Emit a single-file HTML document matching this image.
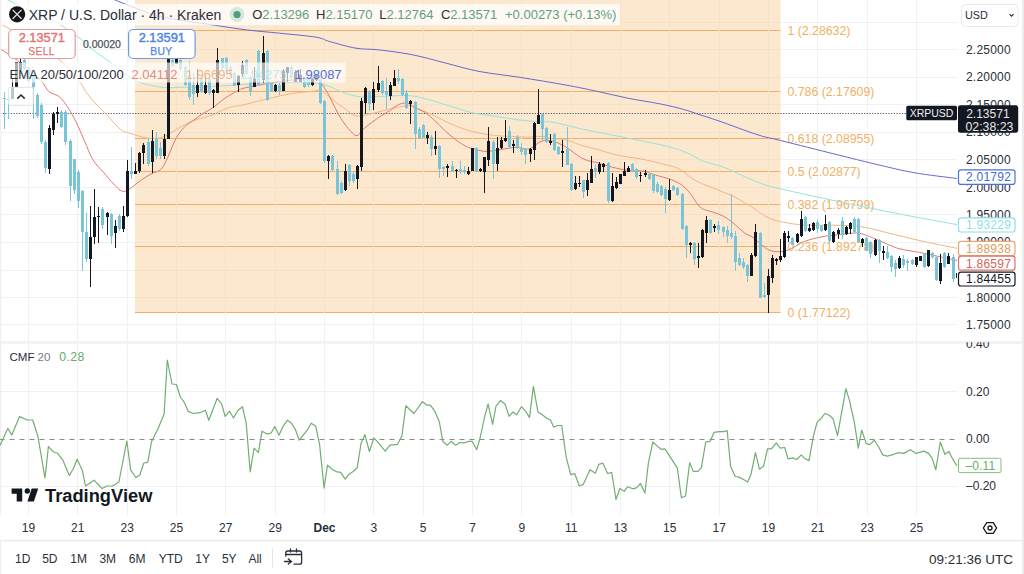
<!DOCTYPE html>
<html><head><meta charset="utf-8"><title>XRPUSD</title><style>
html,body{margin:0;padding:0;background:#fff;}
body{width:1024px;height:574px;overflow:hidden;position:relative;font-family:"Liberation Sans",sans-serif;}
svg{position:absolute;left:0;top:0;display:block}
</style></head><body>
<svg width="1024" height="574" viewBox="0 0 1024 574">
<g stroke="#f1f1f3" stroke-width="1" shape-rendering="crispEdges">
<line x1="0" y1="22.5" x2="957" y2="22.5"/>
<line x1="0" y1="49.5" x2="957" y2="49.5"/>
<line x1="0" y1="77.5" x2="957" y2="77.5"/>
<line x1="0" y1="104.5" x2="957" y2="104.5"/>
<line x1="0" y1="132.5" x2="957" y2="132.5"/>
<line x1="0" y1="159.5" x2="957" y2="159.5"/>
<line x1="0" y1="187.5" x2="957" y2="187.5"/>
<line x1="0" y1="214.5" x2="957" y2="214.5"/>
<line x1="0" y1="242.5" x2="957" y2="242.5"/>
<line x1="0" y1="270.5" x2="957" y2="270.5"/>
<line x1="0" y1="297.5" x2="957" y2="297.5"/>
<line x1="0" y1="324.5" x2="957" y2="324.5"/>
<line x1="28.5" y1="0" x2="28.5" y2="341"/>
<line x1="28.5" y1="342" x2="28.5" y2="515"/>
<line x1="77.5" y1="0" x2="77.5" y2="341"/>
<line x1="77.5" y1="342" x2="77.5" y2="515"/>
<line x1="127.5" y1="0" x2="127.5" y2="341"/>
<line x1="127.5" y1="342" x2="127.5" y2="515"/>
<line x1="176.5" y1="0" x2="176.5" y2="341"/>
<line x1="176.5" y1="342" x2="176.5" y2="515"/>
<line x1="225.5" y1="0" x2="225.5" y2="341"/>
<line x1="225.5" y1="342" x2="225.5" y2="515"/>
<line x1="275.5" y1="0" x2="275.5" y2="341"/>
<line x1="275.5" y1="342" x2="275.5" y2="515"/>
<line x1="324.5" y1="0" x2="324.5" y2="341"/>
<line x1="324.5" y1="342" x2="324.5" y2="515"/>
<line x1="373.5" y1="0" x2="373.5" y2="341"/>
<line x1="373.5" y1="342" x2="373.5" y2="515"/>
<line x1="423.5" y1="0" x2="423.5" y2="341"/>
<line x1="423.5" y1="342" x2="423.5" y2="515"/>
<line x1="472.5" y1="0" x2="472.5" y2="341"/>
<line x1="472.5" y1="342" x2="472.5" y2="515"/>
<line x1="521.5" y1="0" x2="521.5" y2="341"/>
<line x1="521.5" y1="342" x2="521.5" y2="515"/>
<line x1="571.5" y1="0" x2="571.5" y2="341"/>
<line x1="571.5" y1="342" x2="571.5" y2="515"/>
<line x1="620.5" y1="0" x2="620.5" y2="341"/>
<line x1="620.5" y1="342" x2="620.5" y2="515"/>
<line x1="669.5" y1="0" x2="669.5" y2="341"/>
<line x1="669.5" y1="342" x2="669.5" y2="515"/>
<line x1="719.5" y1="0" x2="719.5" y2="341"/>
<line x1="719.5" y1="342" x2="719.5" y2="515"/>
<line x1="768.5" y1="0" x2="768.5" y2="341"/>
<line x1="768.5" y1="342" x2="768.5" y2="515"/>
<line x1="817.5" y1="0" x2="817.5" y2="341"/>
<line x1="817.5" y1="342" x2="817.5" y2="515"/>
<line x1="867.5" y1="0" x2="867.5" y2="341"/>
<line x1="867.5" y1="342" x2="867.5" y2="515"/>
<line x1="916.5" y1="0" x2="916.5" y2="341"/>
<line x1="916.5" y1="342" x2="916.5" y2="515"/>
<line x1="0" y1="391.5" x2="957" y2="391.5"/>
<line x1="0" y1="486.5" x2="957" y2="486.5"/>
</g>
<rect x="135" y="0" width="645.5" height="313" fill="#fbe8cf"/>
<g stroke="#f0ae66" stroke-width="1">
<line x1="135" y1="30.5" x2="780.5" y2="30.5"/>
<line x1="135" y1="91.5" x2="780.5" y2="91.5"/>
<line x1="135" y1="138.5" x2="780.5" y2="138.5"/>
<line x1="135" y1="171.5" x2="780.5" y2="171.5"/>
<line x1="135" y1="204.5" x2="780.5" y2="204.5"/>
<line x1="135" y1="246.5" x2="780.5" y2="246.5"/>
<line x1="135" y1="312.5" x2="780.5" y2="312.5"/>
</g>
<g stroke="#f6e1c6" stroke-width="1" shape-rendering="crispEdges">
<line x1="135" y1="22.5" x2="780" y2="22.5"/>
<line x1="135" y1="49.5" x2="780" y2="49.5"/>
<line x1="135" y1="77.5" x2="780" y2="77.5"/>
<line x1="135" y1="104.5" x2="780" y2="104.5"/>
<line x1="135" y1="132.5" x2="780" y2="132.5"/>
<line x1="135" y1="159.5" x2="780" y2="159.5"/>
<line x1="135" y1="187.5" x2="780" y2="187.5"/>
<line x1="135" y1="214.5" x2="780" y2="214.5"/>
<line x1="135" y1="242.5" x2="780" y2="242.5"/>
<line x1="135" y1="270.5" x2="780" y2="270.5"/>
<line x1="135" y1="297.5" x2="780" y2="297.5"/>
<line x1="176.5" y1="0" x2="176.5" y2="313"/>
<line x1="225.5" y1="0" x2="225.5" y2="313"/>
<line x1="275.5" y1="0" x2="275.5" y2="313"/>
<line x1="324.5" y1="0" x2="324.5" y2="313"/>
<line x1="373.5" y1="0" x2="373.5" y2="313"/>
<line x1="423.5" y1="0" x2="423.5" y2="313"/>
<line x1="472.5" y1="0" x2="472.5" y2="313"/>
<line x1="521.5" y1="0" x2="521.5" y2="313"/>
<line x1="571.5" y1="0" x2="571.5" y2="313"/>
<line x1="620.5" y1="0" x2="620.5" y2="313"/>
<line x1="669.5" y1="0" x2="669.5" y2="313"/>
<line x1="719.5" y1="0" x2="719.5" y2="313"/>
<line x1="768.5" y1="0" x2="768.5" y2="313"/>
</g>
<g font-family="Liberation Sans" font-size="12.3" fill="#f0b064">
<text x="787.5" y="34.8">1 (2.28632)</text>
<text x="787.5" y="95.8">0.786 (2.17609)</text>
<text x="787.5" y="142.8">0.618 (2.08955)</text>
<text x="787.5" y="175.8">0.5 (2.02877)</text>
<text x="787.5" y="208.8">0.382 (1.96799)</text>
<text x="787.5" y="250.8">0.236 (1.89278)</text>
<text x="787.5" y="316.8">0 (1.77122)</text>
</g>
<line x1="0" y1="113.5" x2="957" y2="113.5" stroke="#5d606b" stroke-width="1" stroke-dasharray="1.3 1.4"/>
<path d="M108,-3 C110,-2.17 113.67,-0.5 120,2 C126.33,4.5 139.5,9.58 146,12 C152.5,14.42 153.33,15.17 159,16.5 C164.67,17.83 170.97,18.58 180,20 C189.03,21.42 202.13,23.35 213.2,25 C224.27,26.65 235.32,28.53 246.4,29.9 C257.48,31.27 268.07,31.98 279.7,33.2 C291.33,34.42 307.9,35.82 316.2,37.2 C324.5,38.58 322.87,39.67 329.5,41.5 C336.13,43.33 347.7,46.8 356,48.2 C364.3,49.6 369.87,48.8 379.3,49.9 C388.73,51 401.52,52.6 412.6,54.8 C423.68,57 434.73,60.33 445.8,63.1 C456.87,65.87 466.6,69.02 479,71.4 C491.4,73.78 505.75,75.13 520.2,77.4 C534.65,79.67 552.9,82.68 565.7,85 C578.5,87.32 586.55,89.08 597,91.3 C607.45,93.52 617.95,96.22 628.4,98.3 C638.85,100.38 650.57,101.97 659.7,103.8 C668.83,105.63 676.48,107.47 683.2,109.3 C689.92,111.13 694.03,112.85 700,114.8 C705.97,116.75 709.33,117.65 719,121 C728.67,124.35 747.6,131.62 758,134.9 C768.4,138.18 768.4,137.45 781.4,140.7 C794.4,143.95 820.4,150.52 836,154.4 C851.6,158.28 862,160.95 875,164 C888,167.05 900.33,170.28 914,172.7 C927.67,175.12 949.83,177.53 957,178.5" fill="none" stroke="#6469d2" stroke-width="1"/>
<path d="M0,-4 C1.33,-3.33 3,-2.5 8,0 C13,2.5 22.57,7.67 30,11 C37.43,14.33 44.65,15.72 52.6,20 C60.55,24.28 70.5,31.37 77.7,36.7 C84.9,42.03 90.47,47.82 95.8,52 C101.13,56.18 105.05,58.3 109.7,61.8 C114.35,65.3 119.05,69.73 123.7,73 C128.35,76.27 132.95,79.32 137.6,81.4 C142.25,83.48 146.95,84.47 151.6,85.5 C156.25,86.53 160.38,87.3 165.5,87.6 C170.62,87.9 175.72,87.4 182.3,87.3 C188.88,87.2 195.38,87.45 205,87 C214.62,86.55 228.33,85.3 240,84.6 C251.67,83.9 261.83,82.95 275,82.8 C288.17,82.65 307.25,81.93 319,83.7 C330.75,85.47 338.17,91.18 345.5,93.4 C352.83,95.62 355.68,96.57 363,97 C370.32,97.43 381.57,96.22 389.4,96 C397.23,95.78 403.95,95.23 410,95.7 C416.05,96.17 420.48,97.5 425.7,98.8 C430.92,100.1 436.08,101.93 441.3,103.5 C446.52,105.07 451.77,106.63 457,108.2 C462.23,109.77 467.47,111.72 472.7,112.9 C477.93,114.08 483.18,114.52 488.4,115.3 C493.62,116.08 498.78,116.82 504,117.6 C509.22,118.38 514.47,119.35 519.7,120 C524.93,120.65 530.35,121.2 535.4,121.5 C540.45,121.8 544.95,121.22 550,121.8 C555.05,122.38 560.48,123.82 565.7,125 C570.92,126.18 576.08,127.73 581.3,128.9 C586.52,130.07 591.77,130.95 597,132 C602.23,133.05 607.47,134.15 612.7,135.2 C617.93,136.25 623.18,137.27 628.4,138.3 C633.62,139.33 638.78,140.35 644,141.4 C649.22,142.45 654.47,143.42 659.7,144.6 C664.93,145.78 670.18,146.82 675.4,148.5 C680.62,150.18 686.43,152.62 691,154.7 C695.57,156.78 697.35,158.92 702.8,161 C708.25,163.08 716.73,164.6 723.7,167.2 C730.67,169.8 737.63,173.63 744.6,176.6 C751.57,179.57 758.53,182.73 765.5,185 C772.47,187.27 774.65,187.53 786.4,190.2 C798.15,192.87 821.23,197.87 836,201 C850.77,204.13 862,206.37 875,209 C888,211.63 900.33,214.2 914,216.8 C927.67,219.4 949.83,223.3 957,224.6" fill="none" stroke="#96e3dc" stroke-width="1"/>
<path d="M0,23.5 C4.45,26.08 16.77,32.92 26.7,39 C36.63,45.08 50.98,53.17 59.6,60 C68.22,66.83 74.05,74.75 78.4,80 C82.75,85.25 83.1,87.83 85.7,91.5 C88.3,95.17 90.87,98.52 94,102 C97.13,105.48 101.02,108.75 104.5,112.4 C107.98,116.05 111.95,120.85 114.9,123.9 C117.85,126.95 119.93,129.22 122.2,130.7 C124.47,132.18 125.53,131.85 128.5,132.8 C131.47,133.75 136.25,135.43 140,136.4 C143.75,137.37 147.43,138.42 151,138.6 C154.57,138.78 157.93,138.55 161.4,137.5 C164.87,136.45 168.32,134.22 171.8,132.3 C175.28,130.38 178.8,127.92 182.3,126 C185.8,124.08 189.32,122.18 192.8,120.8 C196.28,119.42 199.72,118.75 203.2,117.7 C206.68,116.65 210.23,115.9 213.7,114.5 C217.17,113.1 220.52,110.68 224,109.3 C227.48,107.92 231.93,106.8 234.6,106.2 C237.27,105.6 236.17,106.52 240,105.7 C243.83,104.88 251.77,102.75 257.6,101.3 C263.43,99.85 269.15,98.32 275,97 C280.85,95.68 286.82,94.3 292.7,93.4 C298.58,92.5 305.62,92.03 310.3,91.6 C314.98,91.17 317.28,89.62 320.8,90.8 C324.32,91.98 327.28,95.63 331.4,98.7 C335.52,101.77 341.4,106.33 345.5,109.2 C349.6,112.07 351.62,115.17 356,115.9 C360.38,116.63 366.23,114.72 371.8,113.6 C377.37,112.48 383.53,110.52 389.4,109.2 C395.27,107.88 402.78,106 407,105.7 C411.22,105.4 410.28,105.8 414.7,107.4 C419.12,109 427.75,112.68 433.5,115.3 C439.25,117.92 443.97,120.75 449.2,123.1 C454.43,125.45 459.68,127.7 464.9,129.4 C470.12,131.1 475.28,132.27 480.5,133.3 C485.72,134.33 490.97,135.08 496.2,135.6 C501.43,136.12 506.67,136.13 511.9,136.4 C517.13,136.67 522.38,137.2 527.6,137.2 C532.82,137.2 539.47,136.22 543.2,136.4 C546.93,136.58 546.25,137.72 550,138.3 C553.75,138.88 560.48,138.73 565.7,139.9 C570.92,141.07 576.08,143.73 581.3,145.3 C586.52,146.87 591.77,147.85 597,149.3 C602.23,150.75 607.47,152.7 612.7,154 C617.93,155.3 623.18,156.18 628.4,157.1 C633.62,158.02 638.78,158.45 644,159.5 C649.22,160.55 654.47,162.1 659.7,163.4 C664.93,164.7 671.22,165.73 675.4,167.3 C679.58,168.87 681.98,170.9 684.8,172.8 C687.62,174.7 689.3,176.83 692.3,178.7 C695.3,180.57 699.32,182.45 702.8,184 C706.28,185.55 709.72,186.62 713.2,188 C716.68,189.38 720.23,190.88 723.7,192.3 C727.17,193.72 730.52,194.75 734,196.5 C737.48,198.25 741.1,200.72 744.6,202.8 C748.1,204.88 751.52,206.73 755,209 C758.48,211.27 762,214.48 765.5,216.4 C769,218.32 771.7,219.3 776,220.5 C780.3,221.7 786.15,222.82 791.3,223.6 C796.45,224.38 800.4,224.93 806.9,225.2 C813.4,225.47 822.48,225.07 830.3,225.2 C838.12,225.33 847.28,225.48 853.8,226 C860.32,226.52 864.2,227.27 869.4,228.3 C874.6,229.33 879.9,230.95 885,232.2 C890.1,233.45 893.43,234.23 900,235.8 C906.57,237.37 914.9,239.52 924.4,241.6 C933.9,243.68 951.57,247.18 957,248.3" fill="none" stroke="#f1b684" stroke-width="1"/>
<path d="M0,48.6 C3.4,50.95 13.65,57.47 20.4,62.7 C27.15,67.93 35.77,75.2 40.5,80 C45.23,84.8 45.67,88.72 48.8,91.5 C51.93,94.28 56.15,94.08 59.3,96.7 C62.45,99.32 64.92,103.02 67.7,107.2 C70.48,111.38 73.22,116.22 76,121.8 C78.78,127.38 81.6,134.42 84.4,140.7 C87.2,146.98 89.67,154.28 92.8,159.5 C95.93,164.72 99.72,167.92 103.2,172 C106.68,176.08 110.52,180.78 113.7,184 C116.88,187.22 119.58,190.53 122.3,191.3 C125.02,192.07 126.97,190.38 130,188.6 C133.03,186.82 137,183.03 140.5,180.6 C144,178.17 147.52,175.93 151,174 C154.48,172.07 158.62,171.77 161.4,169 C164.18,166.23 165.27,162.47 167.7,157.4 C170.13,152.33 173.22,143.67 176,138.6 C178.78,133.53 181.6,129.97 184.4,127 C187.2,124.03 189.67,123.05 192.8,120.8 C195.93,118.55 199.72,115.77 203.2,113.5 C206.68,111.23 210.23,109.65 213.7,107.2 C217.17,104.75 220.52,101.25 224,98.8 C227.48,96.35 231.43,94.23 234.6,92.5 C237.77,90.77 239.17,89.57 243,88.4 C246.83,87.23 252.27,86.57 257.6,85.5 C262.93,84.43 269.15,82.88 275,82 C280.85,81.12 286.82,80.78 292.7,80.2 C298.58,79.62 305.92,78.37 310.3,78.5 C314.68,78.63 316.07,78.52 319,81 C321.93,83.48 324.95,88.4 327.9,93.4 C330.85,98.4 333.77,105.73 336.7,111 C339.63,116.27 342.28,120.9 345.5,125 C348.72,129.1 353.08,134.87 356,135.6 C358.92,136.33 360.37,131.6 363,129.4 C365.63,127.2 368.87,124.6 371.8,122.4 C374.73,120.2 377.67,118.1 380.6,116.2 C383.53,114.3 386.47,112.9 389.4,111 C392.33,109.1 395.27,106.13 398.2,104.8 C401.13,103.47 404.25,102.57 407,103 C409.75,103.43 411.58,105.75 414.7,107.4 C417.82,109.05 422.32,110.67 425.7,112.9 C429.08,115.13 431.87,117.92 435,120.8 C438.13,123.68 441.08,127.07 444.5,130.2 C447.92,133.33 451.85,136.87 455.5,139.6 C459.15,142.33 463.27,145.03 466.4,146.6 C469.53,148.17 471.42,148.22 474.3,149 C477.18,149.78 480.58,151 483.7,151.3 C486.82,151.6 489.62,151.18 493,150.8 C496.38,150.42 500.07,149.57 504,149 C507.93,148.43 512.43,147.4 516.6,147.4 C520.77,147.4 525.1,149.92 529,149 C532.9,148.08 536.83,143.35 540,141.9 C543.17,140.45 545.03,140.12 548,140.3 C550.97,140.48 554.85,141.9 557.8,143 C560.75,144.1 563.08,145.33 565.7,146.9 C568.32,148.47 570.9,150.57 573.5,152.4 C576.1,154.23 578.68,156.47 581.3,157.9 C583.92,159.33 586.58,160.22 589.2,161 C591.82,161.78 593.08,161.55 597,162.6 C600.92,163.65 607.47,166 612.7,167.3 C617.93,168.6 623.18,169.75 628.4,170.4 C633.62,171.05 640.32,170.68 644,171.2 C647.68,171.72 647.67,172.6 650.5,173.5 C653.33,174.4 657.52,175.57 661,176.6 C664.48,177.63 667.93,178.3 671.4,179.7 C674.87,181.1 678.67,182.73 681.8,185 C684.93,187.27 687.75,190.33 690.2,193.3 C692.65,196.27 694.4,200.18 696.5,202.8 C698.6,205.42 700.02,207.43 702.8,209 C705.58,210.57 709.72,210.97 713.2,212.2 C716.68,213.43 720.23,214.48 723.7,216.4 C727.17,218.32 730.52,220.93 734,223.7 C737.48,226.47 741.43,230.73 744.6,233 C747.77,235.27 750.22,235.37 753,237.3 C755.78,239.23 758.57,242.45 761.3,244.6 C764.03,246.75 766.23,249.02 769.4,250.2 C772.57,251.38 776.65,251.97 780.3,251.7 C783.95,251.43 787.92,250.03 791.3,248.6 C794.68,247.17 797.22,244.67 800.6,243.1 C803.98,241.53 807.43,240.37 811.6,239.2 C815.77,238.03 820.65,236.88 825.6,236.1 C830.55,235.32 836.6,235.02 841.3,234.5 C846,233.98 850.42,233.12 853.8,233 C857.18,232.88 858.48,232.97 861.6,233.75 C864.72,234.53 868.6,236.14 872.5,237.7 C876.4,239.26 880.83,241.33 885,243.1 C889.17,244.87 893.33,247.02 897.5,248.3 C901.67,249.58 905.52,249.95 910,250.8 C914.48,251.65 916.57,251.78 924.4,253.4 C932.23,255.02 951.57,259.32 957,260.5" fill="none" stroke="#df7a72" stroke-width="1"/>
<g shape-rendering="crispEdges">
<rect x="4" y="92.0" width="1" height="36.5" fill="#7ac4d9"/>
<rect x="3" y="97.5" width="3" height="1.3" fill="#7ac4d9"/>
<rect x="8" y="97.0" width="1" height="22.0" fill="#7ac4d9"/>
<rect x="7" y="99.0" width="3" height="1.3" fill="#7ac4d9"/>
<rect x="12" y="79.4" width="1" height="20.0" fill="#131722"/>
<rect x="11" y="87.2" width="3" height="12.2" fill="#131722"/>
<rect x="16" y="62.0" width="1" height="25.0" fill="#131722"/>
<rect x="15" y="62.4" width="3" height="24.4" fill="#131722"/>
<rect x="20" y="59.4" width="1" height="10.8" fill="#131722"/>
<rect x="19" y="62.0" width="3" height="8.2" fill="#131722"/>
<rect x="24" y="59.4" width="1" height="10.6" fill="#7ac4d9"/>
<rect x="23" y="60.2" width="3" height="8.8" fill="#7ac4d9"/>
<rect x="28" y="67.0" width="1" height="15.0" fill="#7ac4d9"/>
<rect x="27" y="68.0" width="3" height="13.1" fill="#7ac4d9"/>
<rect x="33" y="73.0" width="1" height="46.0" fill="#7ac4d9"/>
<rect x="32" y="74.2" width="3" height="12.8" fill="#7ac4d9"/>
<rect x="37" y="93.0" width="1" height="25.0" fill="#7ac4d9"/>
<rect x="36" y="95.0" width="3" height="21.0" fill="#7ac4d9"/>
<rect x="41" y="103.0" width="1" height="41.0" fill="#7ac4d9"/>
<rect x="40" y="105.0" width="3" height="37.0" fill="#7ac4d9"/>
<rect x="45" y="140.0" width="1" height="32.6" fill="#7ac4d9"/>
<rect x="44" y="142.0" width="3" height="26.0" fill="#7ac4d9"/>
<rect x="49" y="124.7" width="1" height="49.0" fill="#131722"/>
<rect x="48" y="128.0" width="3" height="41.0" fill="#131722"/>
<rect x="53" y="111.6" width="1" height="22.9" fill="#131722"/>
<rect x="52" y="114.0" width="3" height="16.0" fill="#131722"/>
<rect x="57" y="107.0" width="1" height="15.5" fill="#131722"/>
<rect x="56" y="112.0" width="3" height="2.0" fill="#131722"/>
<rect x="61" y="110.0" width="1" height="18.0" fill="#7ac4d9"/>
<rect x="60" y="112.0" width="3" height="15.0" fill="#7ac4d9"/>
<rect x="65" y="110.0" width="1" height="35.0" fill="#7ac4d9"/>
<rect x="64" y="112.0" width="3" height="30.0" fill="#7ac4d9"/>
<rect x="70" y="139.0" width="1" height="62.0" fill="#7ac4d9"/>
<rect x="69" y="141.0" width="3" height="45.0" fill="#7ac4d9"/>
<rect x="74" y="159.0" width="1" height="35.0" fill="#7ac4d9"/>
<rect x="73" y="159.0" width="3" height="31.0" fill="#7ac4d9"/>
<rect x="78" y="170.0" width="1" height="37.6" fill="#7ac4d9"/>
<rect x="77" y="172.0" width="3" height="29.0" fill="#7ac4d9"/>
<rect x="82" y="190.0" width="1" height="81.0" fill="#7ac4d9"/>
<rect x="81" y="191.0" width="3" height="41.0" fill="#7ac4d9"/>
<rect x="86" y="213.0" width="1" height="49.0" fill="#7ac4d9"/>
<rect x="85" y="232.0" width="3" height="27.0" fill="#7ac4d9"/>
<rect x="90" y="206.0" width="1" height="81.0" fill="#131722"/>
<rect x="89" y="237.0" width="3" height="22.0" fill="#131722"/>
<rect x="94" y="189.0" width="1" height="55.0" fill="#131722"/>
<rect x="93" y="217.0" width="3" height="20.0" fill="#131722"/>
<rect x="98" y="207.0" width="1" height="36.0" fill="#131722"/>
<rect x="97" y="215.7" width="3" height="1.3" fill="#131722"/>
<rect x="102" y="207.0" width="1" height="22.0" fill="#7ac4d9"/>
<rect x="101" y="209.0" width="3" height="16.0" fill="#7ac4d9"/>
<rect x="107" y="211.6" width="1" height="23.0" fill="#131722"/>
<rect x="106" y="213.0" width="3" height="4.0" fill="#131722"/>
<rect x="111" y="213.0" width="1" height="31.0" fill="#7ac4d9"/>
<rect x="110" y="214.0" width="3" height="22.0" fill="#7ac4d9"/>
<rect x="115" y="220.0" width="1" height="28.0" fill="#131722"/>
<rect x="114" y="226.0" width="3" height="7.0" fill="#131722"/>
<rect x="119" y="214.0" width="1" height="16.5" fill="#7ac4d9"/>
<rect x="118" y="215.7" width="3" height="13.3" fill="#7ac4d9"/>
<rect x="123" y="206.0" width="1" height="26.0" fill="#131722"/>
<rect x="122" y="216.0" width="3" height="13.0" fill="#131722"/>
<rect x="127" y="160.0" width="1" height="57.0" fill="#131722"/>
<rect x="126" y="171.0" width="3" height="45.0" fill="#131722"/>
<rect x="131" y="147.2" width="1" height="31.3" fill="#7ac4d9"/>
<rect x="130" y="170.7" width="3" height="3.1" fill="#7ac4d9"/>
<rect x="135" y="163.0" width="1" height="11.0" fill="#131722"/>
<rect x="134" y="171.0" width="3" height="3.0" fill="#131722"/>
<rect x="139" y="151.7" width="1" height="20.9" fill="#131722"/>
<rect x="138" y="153.0" width="3" height="18.0" fill="#131722"/>
<rect x="143" y="143.0" width="1" height="21.0" fill="#131722"/>
<rect x="142" y="145.0" width="3" height="8.0" fill="#131722"/>
<rect x="148" y="138.0" width="1" height="28.0" fill="#7ac4d9"/>
<rect x="147" y="142.0" width="3" height="22.0" fill="#7ac4d9"/>
<rect x="152" y="129.5" width="1" height="43.1" fill="#131722"/>
<rect x="151" y="140.6" width="3" height="20.9" fill="#131722"/>
<rect x="156" y="132.0" width="1" height="27.0" fill="#7ac4d9"/>
<rect x="155" y="139.0" width="3" height="17.0" fill="#7ac4d9"/>
<rect x="160" y="142.0" width="1" height="17.0" fill="#7ac4d9"/>
<rect x="159" y="147.5" width="3" height="8.5" fill="#7ac4d9"/>
<rect x="164" y="133.6" width="1" height="25.4" fill="#131722"/>
<rect x="163" y="139.0" width="3" height="17.0" fill="#131722"/>
<rect x="168" y="45.0" width="1" height="94.0" fill="#131722"/>
<rect x="167" y="50.0" width="3" height="89.0" fill="#131722"/>
<rect x="172" y="58.0" width="1" height="9.0" fill="#7ac4d9"/>
<rect x="171" y="60.0" width="3" height="5.7" fill="#7ac4d9"/>
<rect x="176" y="57.0" width="1" height="7.0" fill="#131722"/>
<rect x="175" y="59.4" width="3" height="4.2" fill="#131722"/>
<rect x="180" y="59.0" width="1" height="12.0" fill="#7ac4d9"/>
<rect x="179" y="60.0" width="3" height="9.4" fill="#7ac4d9"/>
<rect x="185" y="66.0" width="1" height="20.0" fill="#7ac4d9"/>
<rect x="184" y="67.3" width="3" height="17.7" fill="#7ac4d9"/>
<rect x="189" y="60.5" width="1" height="39.5" fill="#7ac4d9"/>
<rect x="188" y="75.0" width="3" height="22.0" fill="#7ac4d9"/>
<rect x="193" y="73.0" width="1" height="32.4" fill="#7ac4d9"/>
<rect x="192" y="84.5" width="3" height="9.5" fill="#7ac4d9"/>
<rect x="197" y="68.8" width="1" height="27.7" fill="#131722"/>
<rect x="196" y="85.0" width="3" height="8.4" fill="#131722"/>
<rect x="201" y="75.0" width="1" height="18.0" fill="#7ac4d9"/>
<rect x="200" y="76.7" width="3" height="14.6" fill="#7ac4d9"/>
<rect x="205" y="76.0" width="1" height="18.0" fill="#131722"/>
<rect x="204" y="85.0" width="3" height="7.9" fill="#131722"/>
<rect x="209" y="76.0" width="1" height="19.0" fill="#7ac4d9"/>
<rect x="208" y="78.8" width="3" height="14.6" fill="#7ac4d9"/>
<rect x="213" y="89.0" width="1" height="18.5" fill="#131722"/>
<rect x="212" y="89.7" width="3" height="3.7" fill="#131722"/>
<rect x="217" y="47.7" width="1" height="45.7" fill="#131722"/>
<rect x="216" y="60.0" width="3" height="33.4" fill="#131722"/>
<rect x="222" y="58.0" width="1" height="12.5" fill="#7ac4d9"/>
<rect x="221" y="58.0" width="3" height="10.0" fill="#7ac4d9"/>
<rect x="226" y="57.0" width="1" height="15.0" fill="#7ac4d9"/>
<rect x="225" y="58.4" width="3" height="12.6" fill="#7ac4d9"/>
<rect x="230" y="65.0" width="1" height="11.0" fill="#7ac4d9"/>
<rect x="229" y="67.0" width="3" height="7.0" fill="#7ac4d9"/>
<rect x="234" y="70.5" width="1" height="15.5" fill="#7ac4d9"/>
<rect x="233" y="72.5" width="3" height="13.1" fill="#7ac4d9"/>
<rect x="238" y="75.0" width="1" height="16.7" fill="#131722"/>
<rect x="237" y="76.0" width="3" height="8.5" fill="#131722"/>
<rect x="242" y="61.0" width="1" height="15.8" fill="#131722"/>
<rect x="241" y="65.0" width="3" height="8.6" fill="#131722"/>
<rect x="246" y="58.7" width="1" height="16.3" fill="#7ac4d9"/>
<rect x="245" y="59.5" width="3" height="14.1" fill="#7ac4d9"/>
<rect x="250" y="75.0" width="1" height="20.6" fill="#7ac4d9"/>
<rect x="249" y="77.0" width="3" height="14.0" fill="#7ac4d9"/>
<rect x="254" y="66.6" width="1" height="20.4" fill="#131722"/>
<rect x="253" y="79.0" width="3" height="8.0" fill="#131722"/>
<rect x="258" y="50.0" width="1" height="36.0" fill="#7ac4d9"/>
<rect x="257" y="51.0" width="3" height="33.6" fill="#7ac4d9"/>
<rect x="263" y="36.0" width="1" height="47.0" fill="#131722"/>
<rect x="262" y="52.5" width="3" height="27.5" fill="#131722"/>
<rect x="267" y="50.0" width="1" height="51.0" fill="#7ac4d9"/>
<rect x="266" y="51.0" width="3" height="49.0" fill="#7ac4d9"/>
<rect x="271" y="82.0" width="1" height="10.0" fill="#7ac4d9"/>
<rect x="270" y="83.0" width="3" height="8.0" fill="#7ac4d9"/>
<rect x="275" y="83.8" width="1" height="7.9" fill="#131722"/>
<rect x="274" y="84.6" width="3" height="6.4" fill="#131722"/>
<rect x="279" y="83.0" width="1" height="11.8" fill="#7ac4d9"/>
<rect x="278" y="84.6" width="3" height="6.4" fill="#7ac4d9"/>
<rect x="283" y="69.0" width="1" height="22.0" fill="#131722"/>
<rect x="282" y="70.5" width="3" height="20.5" fill="#131722"/>
<rect x="287" y="66.6" width="1" height="14.9" fill="#131722"/>
<rect x="286" y="66.6" width="3" height="6.4" fill="#131722"/>
<rect x="291" y="65.0" width="1" height="15.0" fill="#7ac4d9"/>
<rect x="290" y="66.6" width="3" height="11.4" fill="#7ac4d9"/>
<rect x="295" y="70.0" width="1" height="12.0" fill="#131722"/>
<rect x="294" y="72.0" width="3" height="9.5" fill="#131722"/>
<rect x="300" y="69.0" width="1" height="12.5" fill="#131722"/>
<rect x="299" y="75.0" width="3" height="6.5" fill="#131722"/>
<rect x="304" y="76.0" width="1" height="12.0" fill="#7ac4d9"/>
<rect x="303" y="77.7" width="3" height="8.9" fill="#7ac4d9"/>
<rect x="308" y="75.0" width="1" height="12.0" fill="#7ac4d9"/>
<rect x="307" y="76.5" width="3" height="8.9" fill="#7ac4d9"/>
<rect x="312" y="78.0" width="1" height="8.0" fill="#131722"/>
<rect x="311" y="79.0" width="3" height="6.0" fill="#131722"/>
<rect x="316" y="74.0" width="1" height="7.0" fill="#131722"/>
<rect x="315" y="75.0" width="3" height="5.0" fill="#131722"/>
<rect x="320" y="78.0" width="1" height="26.0" fill="#7ac4d9"/>
<rect x="319" y="79.0" width="3" height="24.0" fill="#7ac4d9"/>
<rect x="324" y="100.0" width="1" height="63.0" fill="#7ac4d9"/>
<rect x="323" y="100.5" width="3" height="60.5" fill="#7ac4d9"/>
<rect x="328" y="155.0" width="1" height="24.0" fill="#131722"/>
<rect x="327" y="156.0" width="3" height="5.0" fill="#131722"/>
<rect x="332" y="155.0" width="1" height="16.0" fill="#7ac4d9"/>
<rect x="331" y="156.0" width="3" height="14.0" fill="#7ac4d9"/>
<rect x="337" y="161.0" width="1" height="34.0" fill="#7ac4d9"/>
<rect x="336" y="168.6" width="3" height="25.4" fill="#7ac4d9"/>
<rect x="341" y="181.0" width="1" height="13.0" fill="#7ac4d9"/>
<rect x="340" y="182.5" width="3" height="10.1" fill="#7ac4d9"/>
<rect x="345" y="163.6" width="1" height="27.4" fill="#131722"/>
<rect x="344" y="171.0" width="3" height="19.0" fill="#131722"/>
<rect x="349" y="163.6" width="1" height="22.4" fill="#7ac4d9"/>
<rect x="348" y="165.0" width="3" height="16.0" fill="#7ac4d9"/>
<rect x="353" y="172.0" width="1" height="11.0" fill="#7ac4d9"/>
<rect x="352" y="173.7" width="3" height="7.3" fill="#7ac4d9"/>
<rect x="357" y="165.0" width="1" height="24.0" fill="#131722"/>
<rect x="356" y="166.0" width="3" height="13.0" fill="#131722"/>
<rect x="361" y="98.0" width="1" height="73.0" fill="#131722"/>
<rect x="360" y="100.5" width="3" height="66.5" fill="#131722"/>
<rect x="365" y="86.6" width="1" height="27.4" fill="#131722"/>
<rect x="364" y="88.0" width="3" height="15.0" fill="#131722"/>
<rect x="369" y="90.0" width="1" height="20.5" fill="#7ac4d9"/>
<rect x="368" y="91.6" width="3" height="12.4" fill="#7ac4d9"/>
<rect x="373" y="81.8" width="1" height="28.2" fill="#131722"/>
<rect x="372" y="89.1" width="3" height="14.1" fill="#131722"/>
<rect x="378" y="66.4" width="1" height="25.2" fill="#131722"/>
<rect x="377" y="82.8" width="3" height="7.2" fill="#131722"/>
<rect x="382" y="80.0" width="1" height="15.0" fill="#7ac4d9"/>
<rect x="381" y="81.2" width="3" height="11.6" fill="#7ac4d9"/>
<rect x="386" y="77.6" width="1" height="31.1" fill="#7ac4d9"/>
<rect x="385" y="91.0" width="3" height="4.0" fill="#7ac4d9"/>
<rect x="390" y="81.8" width="1" height="17.7" fill="#131722"/>
<rect x="389" y="84.9" width="3" height="11.0" fill="#131722"/>
<rect x="394" y="70.2" width="1" height="15.9" fill="#131722"/>
<rect x="393" y="78.2" width="3" height="7.3" fill="#131722"/>
<rect x="398" y="69.0" width="1" height="14.7" fill="#7ac4d9"/>
<rect x="397" y="78.2" width="3" height="3.0" fill="#7ac4d9"/>
<rect x="402" y="77.5" width="1" height="18.3" fill="#7ac4d9"/>
<rect x="401" y="78.8" width="3" height="16.4" fill="#7ac4d9"/>
<rect x="406" y="89.7" width="1" height="19.0" fill="#7ac4d9"/>
<rect x="405" y="92.8" width="3" height="15.2" fill="#7ac4d9"/>
<rect x="410" y="100.0" width="1" height="24.0" fill="#131722"/>
<rect x="409" y="101.0" width="3" height="3.0" fill="#131722"/>
<rect x="415" y="101.0" width="1" height="48.0" fill="#7ac4d9"/>
<rect x="414" y="102.0" width="3" height="32.0" fill="#7ac4d9"/>
<rect x="419" y="127.0" width="1" height="11.6" fill="#7ac4d9"/>
<rect x="418" y="129.0" width="3" height="8.5" fill="#7ac4d9"/>
<rect x="423" y="124.0" width="1" height="14.0" fill="#7ac4d9"/>
<rect x="422" y="125.0" width="3" height="12.5" fill="#7ac4d9"/>
<rect x="427" y="132.0" width="1" height="12.0" fill="#131722"/>
<rect x="426" y="135.4" width="3" height="2.1" fill="#131722"/>
<rect x="431" y="135.0" width="1" height="21.0" fill="#7ac4d9"/>
<rect x="430" y="136.5" width="3" height="12.5" fill="#7ac4d9"/>
<rect x="435" y="131.0" width="1" height="24.0" fill="#131722"/>
<rect x="434" y="146.0" width="3" height="3.0" fill="#131722"/>
<rect x="439" y="145.0" width="1" height="33.0" fill="#7ac4d9"/>
<rect x="438" y="146.0" width="3" height="23.0" fill="#7ac4d9"/>
<rect x="443" y="165.8" width="1" height="10.2" fill="#7ac4d9"/>
<rect x="442" y="166.8" width="3" height="2.2" fill="#7ac4d9"/>
<rect x="447" y="164.0" width="1" height="13.0" fill="#131722"/>
<rect x="446" y="166.0" width="3" height="2.0" fill="#131722"/>
<rect x="452" y="160.5" width="1" height="11.5" fill="#7ac4d9"/>
<rect x="451" y="166.0" width="3" height="5.0" fill="#7ac4d9"/>
<rect x="456" y="169.0" width="1" height="9.0" fill="#131722"/>
<rect x="455" y="169.5" width="3" height="1.9" fill="#131722"/>
<rect x="460" y="160.5" width="1" height="13.5" fill="#7ac4d9"/>
<rect x="459" y="169.0" width="3" height="3.0" fill="#7ac4d9"/>
<rect x="464" y="165.8" width="1" height="8.2" fill="#7ac4d9"/>
<rect x="463" y="170.0" width="3" height="2.0" fill="#7ac4d9"/>
<rect x="468" y="166.8" width="1" height="8.2" fill="#131722"/>
<rect x="467" y="171.0" width="3" height="3.0" fill="#131722"/>
<rect x="472" y="148.0" width="1" height="23.0" fill="#131722"/>
<rect x="471" y="148.0" width="3" height="23.0" fill="#131722"/>
<rect x="476" y="147.0" width="1" height="25.0" fill="#7ac4d9"/>
<rect x="475" y="148.0" width="3" height="23.0" fill="#7ac4d9"/>
<rect x="480" y="168.0" width="1" height="4.0" fill="#131722"/>
<rect x="479" y="169.0" width="3" height="2.4" fill="#131722"/>
<rect x="484" y="157.0" width="1" height="36.0" fill="#131722"/>
<rect x="483" y="157.4" width="3" height="14.6" fill="#131722"/>
<rect x="488" y="127.0" width="1" height="39.0" fill="#131722"/>
<rect x="487" y="140.7" width="3" height="18.8" fill="#131722"/>
<rect x="493" y="140.0" width="1" height="39.0" fill="#7ac4d9"/>
<rect x="492" y="141.7" width="3" height="22.0" fill="#7ac4d9"/>
<rect x="497" y="136.5" width="1" height="34.5" fill="#131722"/>
<rect x="496" y="148.0" width="3" height="15.7" fill="#131722"/>
<rect x="501" y="136.5" width="1" height="12.5" fill="#131722"/>
<rect x="500" y="139.6" width="3" height="8.4" fill="#131722"/>
<rect x="505" y="119.7" width="1" height="22.0" fill="#131722"/>
<rect x="504" y="137.5" width="3" height="3.2" fill="#131722"/>
<rect x="509" y="126.0" width="1" height="22.0" fill="#7ac4d9"/>
<rect x="508" y="131.0" width="3" height="16.0" fill="#7ac4d9"/>
<rect x="513" y="139.6" width="1" height="13.4" fill="#131722"/>
<rect x="512" y="144.0" width="3" height="2.0" fill="#131722"/>
<rect x="517" y="135.4" width="1" height="13.6" fill="#7ac4d9"/>
<rect x="516" y="136.5" width="3" height="11.5" fill="#7ac4d9"/>
<rect x="521" y="142.8" width="1" height="12.2" fill="#7ac4d9"/>
<rect x="520" y="148.0" width="3" height="4.0" fill="#7ac4d9"/>
<rect x="525" y="148.0" width="1" height="15.7" fill="#7ac4d9"/>
<rect x="524" y="149.0" width="3" height="6.0" fill="#7ac4d9"/>
<rect x="530" y="148.0" width="1" height="13.6" fill="#131722"/>
<rect x="529" y="149.0" width="3" height="5.0" fill="#131722"/>
<rect x="534" y="122.0" width="1" height="37.5" fill="#131722"/>
<rect x="533" y="123.0" width="3" height="27.0" fill="#131722"/>
<rect x="538" y="89.4" width="1" height="34.6" fill="#131722"/>
<rect x="537" y="114.5" width="3" height="9.5" fill="#131722"/>
<rect x="542" y="113.5" width="1" height="26.1" fill="#7ac4d9"/>
<rect x="541" y="113.5" width="3" height="15.5" fill="#7ac4d9"/>
<rect x="546" y="127.0" width="1" height="16.0" fill="#7ac4d9"/>
<rect x="545" y="128.0" width="3" height="13.7" fill="#7ac4d9"/>
<rect x="550" y="134.4" width="1" height="10.5" fill="#131722"/>
<rect x="549" y="140.7" width="3" height="2.1" fill="#131722"/>
<rect x="554" y="133.0" width="1" height="18.0" fill="#7ac4d9"/>
<rect x="553" y="134.0" width="3" height="16.0" fill="#7ac4d9"/>
<rect x="558" y="146.0" width="1" height="9.0" fill="#7ac4d9"/>
<rect x="557" y="147.0" width="3" height="7.0" fill="#7ac4d9"/>
<rect x="562" y="139.6" width="1" height="27.4" fill="#131722"/>
<rect x="561" y="151.0" width="3" height="2.0" fill="#131722"/>
<rect x="567" y="127.0" width="1" height="38.0" fill="#7ac4d9"/>
<rect x="566" y="149.0" width="3" height="16.0" fill="#7ac4d9"/>
<rect x="571" y="163.0" width="1" height="28.0" fill="#7ac4d9"/>
<rect x="570" y="163.7" width="3" height="26.3" fill="#7ac4d9"/>
<rect x="575" y="176.0" width="1" height="14.0" fill="#131722"/>
<rect x="574" y="182.5" width="3" height="6.5" fill="#131722"/>
<rect x="579" y="176.0" width="1" height="10.7" fill="#131722"/>
<rect x="578" y="182.5" width="3" height="1.2" fill="#131722"/>
<rect x="583" y="180.0" width="1" height="18.0" fill="#7ac4d9"/>
<rect x="582" y="180.4" width="3" height="11.6" fill="#7ac4d9"/>
<rect x="587" y="173.0" width="1" height="23.0" fill="#131722"/>
<rect x="586" y="180.4" width="3" height="9.6" fill="#131722"/>
<rect x="591" y="156.0" width="1" height="26.5" fill="#131722"/>
<rect x="590" y="169.0" width="3" height="13.5" fill="#131722"/>
<rect x="595" y="163.7" width="1" height="14.3" fill="#7ac4d9"/>
<rect x="594" y="167.8" width="3" height="4.2" fill="#7ac4d9"/>
<rect x="599" y="161.5" width="1" height="12.5" fill="#131722"/>
<rect x="598" y="163.6" width="3" height="8.4" fill="#131722"/>
<rect x="603" y="162.5" width="1" height="9.5" fill="#131722"/>
<rect x="602" y="163.6" width="3" height="3.1" fill="#131722"/>
<rect x="608" y="162.0" width="1" height="41.0" fill="#7ac4d9"/>
<rect x="607" y="162.6" width="3" height="38.4" fill="#7ac4d9"/>
<rect x="612" y="173.0" width="1" height="29.0" fill="#131722"/>
<rect x="611" y="185.6" width="3" height="15.4" fill="#131722"/>
<rect x="616" y="177.0" width="1" height="11.7" fill="#131722"/>
<rect x="615" y="182.4" width="3" height="5.3" fill="#131722"/>
<rect x="620" y="174.0" width="1" height="9.5" fill="#131722"/>
<rect x="619" y="174.0" width="3" height="9.5" fill="#131722"/>
<rect x="624" y="161.5" width="1" height="14.5" fill="#131722"/>
<rect x="623" y="171.0" width="3" height="5.0" fill="#131722"/>
<rect x="628" y="165.7" width="1" height="6.3" fill="#131722"/>
<rect x="627" y="167.8" width="3" height="4.2" fill="#131722"/>
<rect x="632" y="162.6" width="1" height="9.4" fill="#7ac4d9"/>
<rect x="631" y="163.6" width="3" height="7.4" fill="#7ac4d9"/>
<rect x="636" y="168.0" width="1" height="11.3" fill="#7ac4d9"/>
<rect x="635" y="168.8" width="3" height="8.2" fill="#7ac4d9"/>
<rect x="640" y="172.0" width="1" height="10.0" fill="#131722"/>
<rect x="639" y="174.7" width="3" height="1.3" fill="#131722"/>
<rect x="645" y="169.9" width="1" height="7.3" fill="#131722"/>
<rect x="644" y="173.0" width="3" height="2.0" fill="#131722"/>
<rect x="649" y="173.0" width="1" height="7.3" fill="#7ac4d9"/>
<rect x="648" y="174.0" width="3" height="5.0" fill="#7ac4d9"/>
<rect x="653" y="174.0" width="1" height="19.0" fill="#7ac4d9"/>
<rect x="652" y="175.0" width="3" height="16.0" fill="#7ac4d9"/>
<rect x="657" y="182.0" width="1" height="11.0" fill="#7ac4d9"/>
<rect x="656" y="183.5" width="3" height="8.5" fill="#7ac4d9"/>
<rect x="661" y="184.5" width="1" height="11.5" fill="#7ac4d9"/>
<rect x="660" y="185.6" width="3" height="9.4" fill="#7ac4d9"/>
<rect x="665" y="187.0" width="1" height="25.8" fill="#7ac4d9"/>
<rect x="664" y="188.7" width="3" height="10.3" fill="#7ac4d9"/>
<rect x="669" y="179.0" width="1" height="22.0" fill="#131722"/>
<rect x="668" y="189.7" width="3" height="10.3" fill="#131722"/>
<rect x="673" y="184.5" width="1" height="6.3" fill="#7ac4d9"/>
<rect x="672" y="185.6" width="3" height="4.1" fill="#7ac4d9"/>
<rect x="677" y="186.7" width="1" height="9.3" fill="#7ac4d9"/>
<rect x="676" y="187.7" width="3" height="7.3" fill="#7ac4d9"/>
<rect x="682" y="193.0" width="1" height="36.5" fill="#7ac4d9"/>
<rect x="681" y="194.0" width="3" height="34.5" fill="#7ac4d9"/>
<rect x="686" y="225.0" width="1" height="32.7" fill="#7ac4d9"/>
<rect x="685" y="226.0" width="3" height="19.0" fill="#7ac4d9"/>
<rect x="690" y="242.0" width="1" height="10.5" fill="#131722"/>
<rect x="689" y="243.0" width="3" height="2.0" fill="#131722"/>
<rect x="694" y="242.0" width="1" height="23.0" fill="#7ac4d9"/>
<rect x="693" y="243.0" width="3" height="16.0" fill="#7ac4d9"/>
<rect x="698" y="243.0" width="1" height="25.0" fill="#131722"/>
<rect x="697" y="255.6" width="3" height="2.1" fill="#131722"/>
<rect x="702" y="228.5" width="1" height="29.2" fill="#131722"/>
<rect x="701" y="229.5" width="3" height="27.2" fill="#131722"/>
<rect x="706" y="216.0" width="1" height="26.7" fill="#131722"/>
<rect x="705" y="219.6" width="3" height="13.2" fill="#131722"/>
<rect x="710" y="218.5" width="1" height="15.5" fill="#7ac4d9"/>
<rect x="709" y="219.6" width="3" height="13.2" fill="#7ac4d9"/>
<rect x="714" y="224.0" width="1" height="7.7" fill="#131722"/>
<rect x="713" y="226.0" width="3" height="2.4" fill="#131722"/>
<rect x="718" y="220.7" width="1" height="13.3" fill="#7ac4d9"/>
<rect x="717" y="225.0" width="3" height="4.5" fill="#7ac4d9"/>
<rect x="723" y="226.0" width="1" height="11.0" fill="#7ac4d9"/>
<rect x="722" y="227.3" width="3" height="4.4" fill="#7ac4d9"/>
<rect x="727" y="226.0" width="1" height="16.7" fill="#7ac4d9"/>
<rect x="726" y="229.5" width="3" height="6.5" fill="#7ac4d9"/>
<rect x="731" y="194.4" width="1" height="45.0" fill="#7ac4d9"/>
<rect x="730" y="232.8" width="3" height="4.2" fill="#7ac4d9"/>
<rect x="735" y="230.6" width="1" height="40.4" fill="#7ac4d9"/>
<rect x="734" y="236.0" width="3" height="26.4" fill="#7ac4d9"/>
<rect x="739" y="252.6" width="1" height="13.1" fill="#7ac4d9"/>
<rect x="738" y="258.0" width="3" height="6.6" fill="#7ac4d9"/>
<rect x="743" y="258.0" width="1" height="11.0" fill="#7ac4d9"/>
<rect x="742" y="262.4" width="3" height="4.4" fill="#7ac4d9"/>
<rect x="747" y="263.5" width="1" height="18.5" fill="#7ac4d9"/>
<rect x="746" y="264.6" width="3" height="11.0" fill="#7ac4d9"/>
<rect x="751" y="252.6" width="1" height="23.0" fill="#131722"/>
<rect x="750" y="254.7" width="3" height="20.9" fill="#131722"/>
<rect x="755" y="224.0" width="1" height="33.0" fill="#131722"/>
<rect x="754" y="231.7" width="3" height="24.1" fill="#131722"/>
<rect x="760" y="232.0" width="1" height="65.5" fill="#7ac4d9"/>
<rect x="759" y="232.8" width="3" height="64.7" fill="#7ac4d9"/>
<rect x="764" y="283.0" width="1" height="14.5" fill="#7ac4d9"/>
<rect x="763" y="295.0" width="3" height="1.5" fill="#7ac4d9"/>
<rect x="768" y="269.0" width="1" height="44.0" fill="#131722"/>
<rect x="767" y="275.6" width="3" height="19.8" fill="#131722"/>
<rect x="772" y="254.7" width="1" height="28.6" fill="#131722"/>
<rect x="771" y="258.0" width="3" height="19.8" fill="#131722"/>
<rect x="776" y="258.0" width="1" height="6.6" fill="#131722"/>
<rect x="775" y="259.0" width="3" height="2.0" fill="#131722"/>
<rect x="780" y="239.4" width="1" height="23.0" fill="#131722"/>
<rect x="779" y="256.0" width="3" height="4.0" fill="#131722"/>
<rect x="784" y="230.6" width="1" height="27.4" fill="#131722"/>
<rect x="783" y="232.8" width="3" height="24.2" fill="#131722"/>
<rect x="788" y="230.6" width="1" height="11.0" fill="#131722"/>
<rect x="787" y="236.0" width="3" height="2.3" fill="#131722"/>
<rect x="792" y="237.0" width="1" height="8.0" fill="#7ac4d9"/>
<rect x="791" y="238.3" width="3" height="6.7" fill="#7ac4d9"/>
<rect x="797" y="232.8" width="1" height="9.9" fill="#131722"/>
<rect x="796" y="234.0" width="3" height="7.6" fill="#131722"/>
<rect x="801" y="210.8" width="1" height="26.2" fill="#131722"/>
<rect x="800" y="218.5" width="3" height="17.5" fill="#131722"/>
<rect x="805" y="216.3" width="1" height="15.4" fill="#7ac4d9"/>
<rect x="804" y="217.4" width="3" height="13.2" fill="#7ac4d9"/>
<rect x="809" y="224.4" width="1" height="7.8" fill="#131722"/>
<rect x="808" y="227.9" width="3" height="2.6" fill="#131722"/>
<rect x="813" y="221.8" width="1" height="8.7" fill="#131722"/>
<rect x="812" y="222.6" width="3" height="7.0" fill="#131722"/>
<rect x="817" y="220.0" width="1" height="13.0" fill="#7ac4d9"/>
<rect x="816" y="221.8" width="3" height="6.9" fill="#7ac4d9"/>
<rect x="821" y="225.0" width="1" height="6.5" fill="#7ac4d9"/>
<rect x="820" y="226.0" width="3" height="4.5" fill="#7ac4d9"/>
<rect x="825" y="214.8" width="1" height="15.7" fill="#131722"/>
<rect x="824" y="223.5" width="3" height="6.1" fill="#131722"/>
<rect x="829" y="220.9" width="1" height="20.9" fill="#7ac4d9"/>
<rect x="828" y="221.8" width="3" height="19.2" fill="#7ac4d9"/>
<rect x="833" y="231.4" width="1" height="11.3" fill="#131722"/>
<rect x="832" y="232.0" width="3" height="9.8" fill="#131722"/>
<rect x="838" y="227.9" width="1" height="11.1" fill="#131722"/>
<rect x="837" y="229.6" width="3" height="4.4" fill="#131722"/>
<rect x="842" y="216.5" width="1" height="22.5" fill="#7ac4d9"/>
<rect x="841" y="221.0" width="3" height="13.8" fill="#7ac4d9"/>
<rect x="846" y="226.1" width="1" height="8.7" fill="#131722"/>
<rect x="845" y="227.0" width="3" height="7.0" fill="#131722"/>
<rect x="850" y="221.8" width="1" height="12.2" fill="#131722"/>
<rect x="849" y="222.6" width="3" height="6.1" fill="#131722"/>
<rect x="854" y="217.4" width="1" height="15.6" fill="#7ac4d9"/>
<rect x="853" y="219.0" width="3" height="13.0" fill="#7ac4d9"/>
<rect x="858" y="218.3" width="1" height="24.4" fill="#7ac4d9"/>
<rect x="857" y="219.0" width="3" height="22.8" fill="#7ac4d9"/>
<rect x="862" y="238.0" width="1" height="9.0" fill="#131722"/>
<rect x="861" y="239.0" width="3" height="3.7" fill="#131722"/>
<rect x="866" y="237.4" width="1" height="14.0" fill="#7ac4d9"/>
<rect x="865" y="238.3" width="3" height="12.2" fill="#7ac4d9"/>
<rect x="870" y="241.0" width="1" height="16.5" fill="#7ac4d9"/>
<rect x="869" y="241.8" width="3" height="12.2" fill="#7ac4d9"/>
<rect x="875" y="239.2" width="1" height="16.5" fill="#131722"/>
<rect x="874" y="240.0" width="3" height="14.8" fill="#131722"/>
<rect x="879" y="239.2" width="1" height="23.5" fill="#7ac4d9"/>
<rect x="878" y="240.0" width="3" height="10.5" fill="#7ac4d9"/>
<rect x="883" y="246.0" width="1" height="14.0" fill="#131722"/>
<rect x="882" y="251.4" width="3" height="1.6" fill="#131722"/>
<rect x="887" y="246.0" width="1" height="13.2" fill="#7ac4d9"/>
<rect x="886" y="252.0" width="3" height="6.0" fill="#7ac4d9"/>
<rect x="891" y="255.0" width="1" height="17.0" fill="#7ac4d9"/>
<rect x="890" y="255.7" width="3" height="11.3" fill="#7ac4d9"/>
<rect x="895" y="260.0" width="1" height="16.6" fill="#7ac4d9"/>
<rect x="894" y="262.7" width="3" height="6.1" fill="#7ac4d9"/>
<rect x="899" y="255.7" width="1" height="13.1" fill="#131722"/>
<rect x="898" y="258.3" width="3" height="9.7" fill="#131722"/>
<rect x="903" y="255.0" width="1" height="12.8" fill="#7ac4d9"/>
<rect x="902" y="259.0" width="3" height="6.0" fill="#7ac4d9"/>
<rect x="907" y="259.2" width="1" height="11.8" fill="#7ac4d9"/>
<rect x="906" y="260.8" width="3" height="1.9" fill="#7ac4d9"/>
<rect x="912" y="259.0" width="1" height="6.0" fill="#7ac4d9"/>
<rect x="911" y="260.0" width="3" height="4.4" fill="#7ac4d9"/>
<rect x="916" y="256.8" width="1" height="9.8" fill="#131722"/>
<rect x="915" y="257.4" width="3" height="8.0" fill="#131722"/>
<rect x="920" y="255.7" width="1" height="5.3" fill="#131722"/>
<rect x="919" y="256.0" width="3" height="4.5" fill="#131722"/>
<rect x="924" y="252.6" width="1" height="15.4" fill="#7ac4d9"/>
<rect x="923" y="253.8" width="3" height="12.8" fill="#7ac4d9"/>
<rect x="928" y="249.6" width="1" height="17.4" fill="#131722"/>
<rect x="927" y="250.0" width="3" height="16.0" fill="#131722"/>
<rect x="932" y="252.0" width="1" height="6.7" fill="#7ac4d9"/>
<rect x="931" y="252.6" width="3" height="4.8" fill="#7ac4d9"/>
<rect x="936" y="256.6" width="1" height="24.4" fill="#7ac4d9"/>
<rect x="935" y="257.4" width="3" height="22.6" fill="#7ac4d9"/>
<rect x="940" y="253.8" width="1" height="29.9" fill="#131722"/>
<rect x="939" y="263.0" width="3" height="18.0" fill="#131722"/>
<rect x="944" y="252.0" width="1" height="15.8" fill="#7ac4d9"/>
<rect x="943" y="253.0" width="3" height="14.0" fill="#7ac4d9"/>
<rect x="948" y="253.2" width="1" height="11.0" fill="#131722"/>
<rect x="947" y="256.0" width="3" height="7.5" fill="#131722"/>
<rect x="953" y="253.8" width="1" height="28.6" fill="#7ac4d9"/>
<rect x="952" y="256.8" width="3" height="22.0" fill="#7ac4d9"/>
<rect x="957" y="270.0" width="1" height="8.2" fill="#131722"/>
<rect x="956" y="272.7" width="3" height="4.9" fill="#131722"/>
</g>
<rect x="0" y="4" width="620" height="21.2" fill="#ffffff" fill-opacity="0.75"/>
<rect x="0" y="62.5" width="345.5" height="20" fill="#ffffff" fill-opacity="0.65"/>
<circle cx="17.1" cy="14.3" r="8.1" fill="#16161a"/>
<path d="M13,10.1 Q17.1,14.3 21.2,18.5 M21.2,10.1 Q17.1,14.3 13,18.5" fill="none" stroke="#e6e6e6" stroke-width="1.25" stroke-linecap="round"/>
<text x="28.7" y="20" font-family="Liberation Sans" font-size="14" fill="#2a2e39">XRP / U.S. Dollar · 4h · Kraken</text>
<circle cx="237" cy="14.5" r="7.5" fill="#5fa88a" fill-opacity="0.22"/>
<circle cx="237" cy="14.5" r="3.6" fill="#4f9e7e"/>
<text x="252.2" y="19" font-family="Liberation Sans" font-size="13" fill="#2a2e39">O<tspan fill="#619f85">2.13296</tspan><tspan x="316" fill="#2a2e39">H</tspan><tspan fill="#619f85">2.15170</tspan><tspan x="379.2" fill="#2a2e39">L</tspan><tspan fill="#619f85">2.12764</tspan><tspan x="440.9" fill="#2a2e39">C</tspan><tspan fill="#619f85">2.13571</tspan><tspan x="505" fill="#619f85">+0.00273 (+0.13%)</tspan></text>
<rect x="8.7" y="29.5" width="66.5" height="29" rx="4.5" fill="#fff" stroke="#e59c9c" stroke-width="1.2"/>
<text x="41.8" y="41.6" text-anchor="middle" font-family="Liberation Sans" font-size="12.8" fill="#e07777" stroke="#e07777" stroke-width="0.45">2.13571</text>
<text x="41.5" y="54.5" text-anchor="middle" font-family="Liberation Sans" font-size="10.3" letter-spacing="0.3" fill="#e07777" stroke="#e07777" stroke-width="0.25">SELL</text>
<text x="83" y="48.2" font-family="Liberation Sans" font-size="10.5" fill="#50535e" stroke="#50535e" stroke-width="0.25">0.00020</text>
<rect x="128.6" y="29.5" width="66.5" height="29" rx="4.5" fill="#fff" stroke="#6d9be6" stroke-width="1.2"/>
<text x="161.8" y="41.6" text-anchor="middle" font-family="Liberation Sans" font-size="12.8" fill="#4f86e0" stroke="#4f86e0" stroke-width="0.45">2.13591</text>
<text x="161.3" y="54.5" text-anchor="middle" font-family="Liberation Sans" font-size="10.3" letter-spacing="0.3" fill="#4f86e0" stroke="#4f86e0" stroke-width="0.25">BUY</text>
<text x="9.5" y="79" font-family="Liberation Sans" font-size="13" fill="#2a2e39">EMA 20/50/100/200</text>
<text x="131.5" y="79" font-family="Liberation Sans" font-size="13" fill="#df7a72" fill-opacity="0.9">2.04112</text>
<text x="185.8" y="79" font-family="Liberation Sans" font-size="13" fill="#eea56a" fill-opacity="0.8">1.96695</text>
<text x="239.8" y="79" font-family="Liberation Sans" font-size="13" fill="#8fdfe6" fill-opacity="0.55">1.94275</text>
<text x="294.6" y="79" font-family="Liberation Sans" font-size="13" fill="#5470d6">1.98087</text>
<rect x="8.5" y="87.3" width="24.7" height="18" rx="2" fill="#fff" fill-opacity="0.75" stroke="#e0e3eb" stroke-width="1"/>
<path d="M17.3,98.6 L21,95 L24.7,98.6" fill="none" stroke="#2a2e39" stroke-width="1.6"/>
<rect x="957" y="0" width="67" height="341" fill="#fff"/>
<rect x="957" y="342" width="67" height="173" fill="#fff"/>
<g font-family="Liberation Sans" font-size="12" fill="#2a2e39" letter-spacing="0.2">
<text x="966" y="53.7">2.25000</text>
<text x="966" y="81.3">2.20000</text>
<text x="966" y="108.5">2.15000</text>
<text x="966" y="136.3">2.10000</text>
<text x="966" y="164.1">2.05000</text>
<text x="966" y="191.6">2.00000</text>
<text x="966" y="218.8">1.95000</text>
<text x="966" y="246.3">1.90000</text>
<text x="966" y="301.9">1.80000</text>
<text x="966" y="329.0">1.75000</text>
</g>
<rect x="961.5" y="4.5" width="56.5" height="22" rx="4" fill="#fff" stroke="#e8e8ea" stroke-width="1"/>
<text x="965" y="18.7" font-family="Liberation Sans" font-size="10.8" fill="#2a2e39">USD</text>
<path d="M1009.6,14.2 L1011.6,16.2 L1013.6,14.2" fill="none" stroke="#2a2e39" stroke-width="1.2"/>
<rect x="906.3" y="105.7" width="50.7" height="14.5" rx="1.5" fill="#131722"/>
<text x="909.7" y="117.3" font-family="Liberation Sans" font-size="10.5" fill="#f0f0f0">XRPUSD</text>
<rect x="958" y="105.3" width="60.2" height="27.5" rx="2.5" fill="#131722"/>
<text x="966.2" y="118" font-family="Liberation Sans" font-size="12" fill="#e8e8e8">2.13571</text>
<text x="965.5" y="130.7" font-family="Liberation Sans" font-size="12.3" fill="#e8e8e8">02:38:23</text>
<rect x="958.5" y="169.8" width="56.5" height="14.599999999999994" rx="2.5" fill="#fff" stroke="#4a72d8" stroke-width="1.2"/>
<text x="966" y="181.4" font-family="Liberation Sans" font-size="12" letter-spacing="0.25" fill="#3f6cd6">2.01792</text>
<rect x="958.5" y="217.8" width="56.5" height="14.199999999999989" rx="2.5" fill="#fff" stroke="#8fdfe6" stroke-width="1.2"/>
<text x="966" y="229.2" font-family="Liberation Sans" font-size="12" letter-spacing="0.25" fill="#8fdfe6">1.93229</text>
<rect x="958.5" y="241.3" width="56.5" height="14.299999999999983" rx="2.5" fill="#fff" stroke="#eba46a" stroke-width="1.2"/>
<text x="966" y="252.8" font-family="Liberation Sans" font-size="12" letter-spacing="0.25" fill="#e49c58">1.88938</text>
<rect x="958.5" y="256.2" width="56.5" height="14.0" rx="2.5" fill="#fff" stroke="#dc736a" stroke-width="1.2"/>
<text x="966" y="267.5" font-family="Liberation Sans" font-size="12" letter-spacing="0.25" fill="#d5625a">1.86597</text>
<rect x="958.5" y="272.2" width="56.5" height="13.800000000000011" rx="2.5" fill="#fff" stroke="#131722" stroke-width="1.2"/>
<text x="966" y="283.4" font-family="Liberation Sans" font-size="12" letter-spacing="0.25" fill="#131722">1.84455</text>
<rect x="0" y="341" width="1022" height="3.2" fill="#f3f3f3"/>
<rect x="1022" y="0" width="2" height="574" fill="#ececec"/>
<rect x="0" y="0" width="1.2" height="574" fill="#efefef"/>
<line x1="0" y1="439.5" x2="957" y2="439.5" stroke="#8a8a8a" stroke-width="1" stroke-dasharray="5 5" stroke-dashoffset="0.5"/>
<path d="M0,445.4 L7.8,428.4 L11.8,435 L19.6,416.6 L27.4,420 L32.7,420 L37.9,436.3 L45,478 L48.4,446.7 L53.6,452 L57.5,453.2 L62.7,459.8 L69.3,475.5 L73.2,469 L77.1,459.3 L82.3,470.2 L85.5,486 L94.1,480.2 L102,488.5 L107.2,486 L112.4,486 L118.9,482 L126.8,441 L130.7,470.2 L135.9,477.5 L139.8,475 L143.8,463 L147.7,462.4 L151.6,441.5 L158.1,428.4 L164.1,414 L167.3,360 L172,384 L176.4,384.5 L180.3,397 L184.3,402.3 L188.2,411.4 L193.4,413.5 L200,412.7 L205.4,410.3 L208.8,420.3 L217.2,398.3 L221.7,404 L225.1,416.4 L229.6,411.2 L233.5,418 L237.6,410.8 L242.5,406.7 L246.2,423.2 L250.2,471.9 L254.1,448.1 L258.4,452.7 L262,431.2 L267,434.1 L271.1,433 L274.9,426.6 L279,435.2 L282.9,426.6 L287.4,420.3 L291.5,423.2 L295.3,429.3 L299.2,440.2 L307.8,429.3 L311.2,423.2 L315.7,426.2 L319.6,444.7 L324.1,488.2 L327.5,465.1 L332.7,469.7 L337.2,471.9 L340.6,472.4 L345.2,479.2 L348.6,474.6 L353.1,471.5 L357.2,467.8 L361,443.6 L364.9,434.6 L369.4,451.5 L373.9,437.9 L379.1,443.6 L385.2,451.1 L390,445.2 L397.5,444.3 L402,435.7 L405.8,405.8 L414,413.5 L422.4,401.7 L426.9,405.1 L430.3,405.1 L434.8,411.2 L439.4,422.1 L442.8,441.3 L447.3,445.2 L451.1,441.3 L455.7,445.2 L459.7,442.5 L464.3,442.9 L468.8,441.3 L472.2,441.3 L476.7,449.7 L480.1,438 L484.7,416.4 L488.1,404 L492.6,424.4 L496,406.2 L500.5,400.6 L505,404 L509.1,416.4 L513,411.9 L516.8,414.8 L521.4,406.7 L525.4,410.8 L529.5,417.6 L533.4,386.3 L537.9,411.9 L542.4,414.8 L546.3,418 L550.3,419.8 L553.7,427.1 L557.6,425.5 L561.7,425.5 L566.2,457.2 L570.7,474.6 L574.8,473.7 L579.3,486 L583.2,484.4 L590,469.7 L595.3,473.2 L598.8,464.4 L602.9,463.2 L607.6,473.5 L611.7,472.4 L616,499.5 L619.9,488.4 L624.2,491.3 L627.7,486.7 L632.8,488.8 L636.9,487.6 L640.4,483.4 L644.9,493.1 L648.4,462.9 L652.9,442 L657,445.9 L661.1,449.3 L664.9,448.8 L677.3,467.9 L681.4,497.8 L685.5,496 L689.7,462.6 L693.2,471.4 L697.9,471.4 L701.4,467.7 L705.7,442 L710.2,441.3 L714.1,432.3 L719.3,431.6 L723.8,431.6 L727.2,430.7 L730.6,466.3 L735.2,476.5 L738.6,476.9 L743.1,479.2 L747.6,482.1 L751,474.2 L755.5,452.7 L759.4,469.2 L763.5,466.3 L767.5,448.8 L771.4,448.8 L776.3,442.9 L780.2,448.1 L784.7,447.5 L788.1,458.8 L792.6,457.9 L796.7,459.5 L801.3,454.9 L805.1,458.8 L809,460.6 L813.5,435.7 L817.1,422.1 L821,418.7 L824.8,413.5 L829.3,415.3 L833,418.7 L837.5,435.7 L845.9,388.6 L849.7,401.3 L854.3,422.1 L858.3,448.1 L861.7,430 L866.3,443.6 L870.1,444.7 L874.2,440.2 L878.7,447 L882.8,454.9 L887.3,456.1 L891.9,454.9 L898,452.7 L903.6,453.4 L910.4,449.7 L916.1,453.4 L924,451.1 L928.6,453.4 L932,457.9 L935.8,469.7 L940.3,442 L944.9,454.3 L948.9,451.5 L953.5,460.6 L956.9,465.6" fill="none" stroke="#72ad72" stroke-width="1.2" stroke-linejoin="round"/>
<text x="9.4" y="361.4" font-family="Liberation Sans" font-size="11.6" fill="#2a2e39">CMF<tspan x="37.5" fill="#787b86">20</tspan><tspan x="59.2" font-size="12.3" letter-spacing="0.4" fill="#6aaa6a">0.28</tspan></text>
<defs><clipPath id="cmfc"><rect x="0" y="342.3" width="1024" height="173"/></clipPath></defs>
<g font-family="Liberation Sans" font-size="12" fill="#2a2e39" clip-path="url(#cmfc)">
<text x="966" y="347.6">0.40</text>
<text x="966" y="395.6">0.20</text>
<text x="966" y="443.0">0.00</text>
<text x="966" y="489.8">–0.20</text>
</g>
<rect x="958.5" y="458.3" width="42.5" height="14.3" rx="1.5" fill="#fff" stroke="#86bd86" stroke-width="1"/>
<text x="965.6" y="469.6" font-family="Liberation Sans" font-size="12" letter-spacing="0.1" fill="#6aae6a">–0.11</text>
<g fill="#131722"><path d="M11.6,488.5 H22.2 V501.5 H16.7 V493.8 H11.6 Z"/><circle cx="27.3" cy="491" r="2.7"/><path d="M31.7,488.5 H38.2 L33.9,501.5 H27.4 Z"/></g>
<text x="45" y="501.5" font-family="Liberation Sans" font-size="18.3" font-weight="700" fill="#131722">TradingView</text>
<rect x="0" y="515" width="1022" height="25" fill="#fff"/>
<g font-family="Liberation Sans" font-size="12" fill="#2a2e39" text-anchor="middle">
<text x="28.5" y="532">19</text>
<text x="77.8" y="532">21</text>
<text x="127.2" y="532">23</text>
<text x="176.5" y="532">25</text>
<text x="225.8" y="532">27</text>
<text x="275.2" y="532">29</text>
<text x="324.5" y="532" font-weight="700">Dec</text>
<text x="373.8" y="532">3</text>
<text x="423.2" y="532">5</text>
<text x="472.5" y="532">7</text>
<text x="521.8" y="532">9</text>
<text x="571.2" y="532">11</text>
<text x="620.5" y="532">13</text>
<text x="669.8" y="532">15</text>
<text x="719.2" y="532">17</text>
<text x="768.5" y="532">19</text>
<text x="817.8" y="532">21</text>
<text x="867.2" y="532">23</text>
<text x="916.5" y="532">25</text>
</g>
<path d="M986.7,522.6 L993.3,522.6 L996.6,528 L993.3,533.4 L986.7,533.4 L983.4,528 Z" fill="none" stroke="#131722" stroke-width="1.3"/>
<circle cx="990" cy="528" r="2" fill="none" stroke="#131722" stroke-width="1.3"/>
<rect x="0" y="539.8" width="1022" height="1.6" fill="#ececec"/>
<g font-family="Liberation Sans" font-size="12" fill="#2a2e39">
<text x="15" y="563.1">1D</text>
<text x="42.2" y="563.1">5D</text>
<text x="70.3" y="563.1">1M</text>
<text x="99.4" y="563.1">3M</text>
<text x="128.75" y="563.1">6M</text>
<text x="158.75" y="563.1">YTD</text>
<text x="195.3" y="563.1">1Y</text>
<text x="221.9" y="563.1">5Y</text>
<text x="248.4" y="563.1">All</text>
</g>
<rect x="272" y="548.4" width="1" height="19.2" fill="#e6e6e6"/>
<g fill="none" stroke="#2a2e39" stroke-width="1.3" stroke-linecap="round"><path d="M285.8,556 V553 Q285.8,551 287.8,551 H299.6 Q301.6,551 301.6,553 V562.2 Q301.6,564.2 299.6,564.2 H294"/><path d="M286,554.5 H301.4"/><path d="M290.5,549 V552 M296.5,549 V552"/><path d="M284.5,561.5 H291.5 M288.3,559 L291.5,561.5 L288.3,564"/></g>
<text x="1013" y="563.5" text-anchor="end" font-family="Liberation Sans" font-size="13.5" fill="#2a2e39">09:21:36 UTC</text>
</svg>
</body></html>
